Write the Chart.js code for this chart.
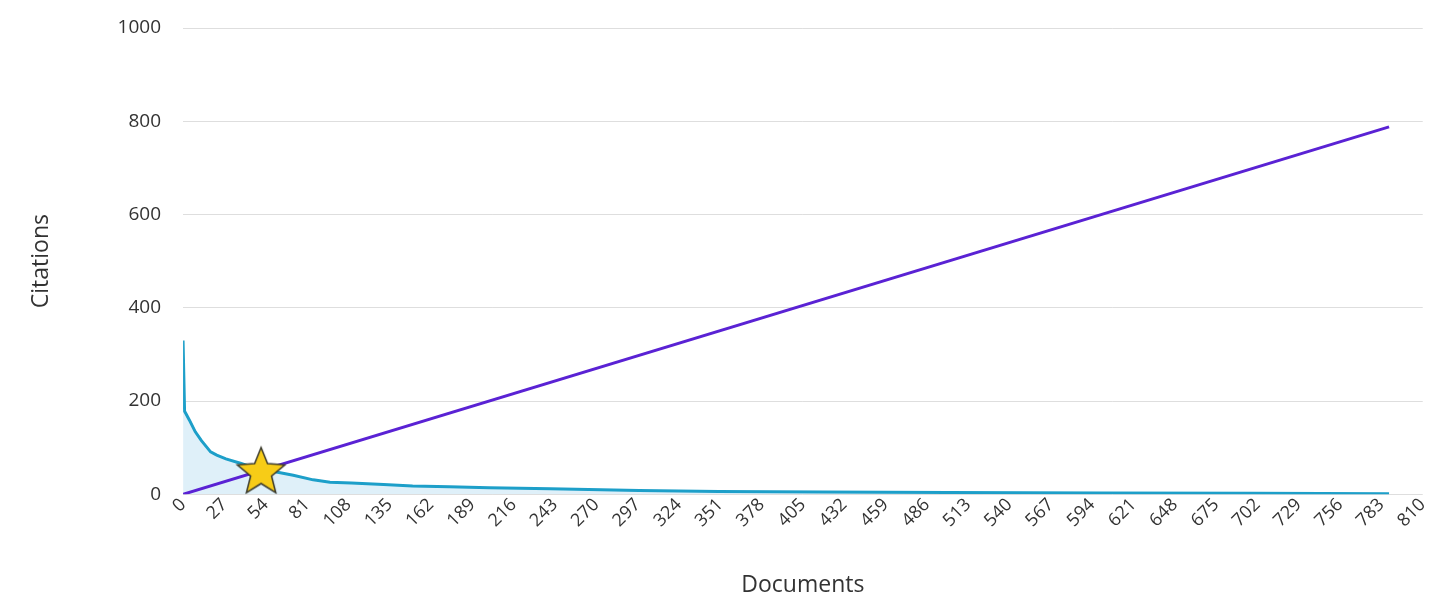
<!DOCTYPE html>
<html>
<head>
<meta charset="utf-8">
<script src="https://cdn.jsdelivr.net/npm/chart.js@4.4.0/dist/chart.umd.min.js"></script>
<style>
    html, body { margin: 0; padding: 0; background: #fff; }
    #wrap { width: 1438px; height: 601px; }
</style>
</head>
<body>
<div id="wrap"><canvas id="hChart"></canvas></div>
<script>
// documents ranked by citations (x) and citations of each (y)
const documentos = [0, 1, 2, 4, 8, 12, 18, 22, 28, 38, 45, 51, 61, 72, 85, 96, 110, 131, 150, 174, 200, 240, 298, 350, 418, 500, 600, 700, 788];
const citas = [330, 178, 172, 160, 134, 115, 91, 84, 76, 66, 58, 53, 48, 41, 31, 26, 24, 21, 18, 16, 14, 12, 8, 6, 5, 4, 3, 2, 1];

// diagonal y = x and the h-index point
const diagonalX = [0, 788];
const diagonalY = [0, 788];
const hIndex = 51;

const ejeXMax = 810;
const ejeXPaso = 27;
const ejeYMax = 1000;
const ejeYPaso = 200;

function crearEstrella(r) {
    const c = document.createElement("canvas");
    const size = Math.ceil(r * 2 + 4);
    c.width = size;
    c.height = size;
    const ctx = c.getContext("2d");
    ctx.beginPath();
    for (let i = 0; i < 10; i++) {
        const rad = i % 2 === 0 ? r : r * 0.44;
        const a = -Math.PI / 2 + i * Math.PI / 5;
        ctx.lineTo(size / 2 + rad * Math.cos(a), size / 2 + 2 + rad * Math.sin(a));
    }
    ctx.closePath();
    ctx.fillStyle = "#f7cc17";
    ctx.fill();
    ctx.lineWidth = 1.5;
    ctx.strokeStyle = "#3b3a2c";
    ctx.stroke();
    return c;
}

const fuente = "'Open Sans', 'Noto Sans', sans-serif";

new Chart(document.getElementById("hChart"), {
    type: "line",
    data: {
        datasets: [
            {
                label: "h-index",
                data: [{ x: hIndex, y: hIndex }],
                pointStyle: crearEstrella(25),
                pointRadius: 25,
                showLine: false
            },
            {
                label: "Diagonal",
                data: diagonalX.map((d, i) => ({ x: d, y: diagonalY[i] })),
                borderColor: "#5a22d4",
                borderWidth: 3,
                pointRadius: 0,
                fill: false
            },
            {
                label: "Citations",
                data: documentos.map((d, i) => ({ x: d, y: citas[i] })),
                borderColor: "#1d9fc9",
                backgroundColor: "rgba(175, 218, 240, 0.4)",
                borderWidth: 3,
                pointRadius: 0,
                fill: "origin",
                tension: 0
            }
        ]
    },
    options: {
        responsive: true,
        maintainAspectRatio: false,
        animation: false,
        layout: { autoPadding: false, padding: { top: 28, right: 15, bottom: 0, left: 28 } },
        plugins: {
            legend: { display: false },
            tooltip: { enabled: false }
        },
        scales: {
            x: {
                type: "linear",
                min: 0,
                max: ejeXMax,
                grid: { display: false, drawTicks: false },
                border: { display: false },
                ticks: {
                    stepSize: ejeXPaso,
                    autoSkip: false,
                    minRotation: 45,
                    maxRotation: 45,
                    padding: 0,
                    color: "#333",
                    font: { family: fuente, size: 18 }
                },
                title: {
                    display: true,
                    text: "Documents",
                    color: "#333",
                    font: { family: fuente, size: 23 },
                    padding: { top: 40, bottom: 2 }
                }
            },
            y: {
                min: 0,
                max: ejeYMax,
                grid: { color: "#dedede", drawTicks: false },
                border: { display: false },
                afterFit: (eje) => { eje.paddingTop = 0; },
                ticks: {
                    stepSize: ejeYPaso,
                    padding: 22,
                    color: "#333",
                    font: { family: fuente, size: 19 },
                    callback: (v) => String(v)
                },
                title: {
                    display: true,
                    text: "Citations",
                    color: "#333",
                    font: { family: fuente, size: 23 },
                    padding: { top: 0, bottom: 40 }
                }
            }
        }
    }
});
</script>
</body>
</html>
